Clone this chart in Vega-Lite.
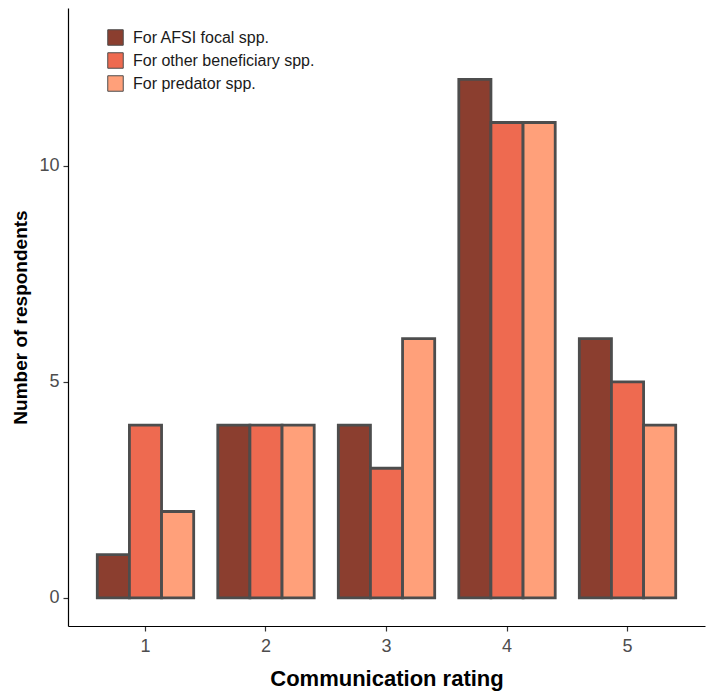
{
  "$schema": "https://vega.github.io/schema/vega-lite/v6.json",
  "width": 637,
  "height": 618,
  "autosize": {"type": "none"},
  "padding": {"left": 68, "top": 8, "right": 6, "bottom": 65},
  "background": "white",
  "config": {
    "view": {"stroke": null},
    "font": "Liberation Sans",
    "axis": {"grid": false, "domainColor": "#000000", "domainWidth": 1.2, "tickColor": "#333333", "tickWidth": 1.2, "tickSize": 5, "labelColor": "#4d4d4d", "labelFont": "Liberation Sans", "labelFontSize": 18, "titleFont": "Liberation Sans", "titleFontWeight": "bold", "titleColor": "#000000"}
  },
  "data": {
    "values": [
      {"rating": "1", "group": "For AFSI focal spp.", "count": 1},
      {"rating": "1", "group": "For other beneficiary spp.", "count": 4},
      {"rating": "1", "group": "For predator spp.", "count": 2},
      {"rating": "2", "group": "For AFSI focal spp.", "count": 4},
      {"rating": "2", "group": "For other beneficiary spp.", "count": 4},
      {"rating": "2", "group": "For predator spp.", "count": 4},
      {"rating": "3", "group": "For AFSI focal spp.", "count": 4},
      {"rating": "3", "group": "For other beneficiary spp.", "count": 3},
      {"rating": "3", "group": "For predator spp.", "count": 6},
      {"rating": "4", "group": "For AFSI focal spp.", "count": 12},
      {"rating": "4", "group": "For other beneficiary spp.", "count": 11},
      {"rating": "4", "group": "For predator spp.", "count": 11},
      {"rating": "5", "group": "For AFSI focal spp.", "count": 6},
      {"rating": "5", "group": "For other beneficiary spp.", "count": 5},
      {"rating": "5", "group": "For predator spp.", "count": 4}
    ]
  },
  "mark": {"type": "bar", "stroke": "#4d4d4d", "strokeWidth": 2.8},
  "encoding": {
    "x": {
      "field": "rating", "type": "ordinal",
      "scale": {"paddingInner": 0.2, "paddingOuter": 0.243},
      "axis": {"title": "Communication rating", "labelAngle": 0, "titleFontSize": 22, "labelPadding": 6, "titlePadding": 13}
    },
    "xOffset": {
      "field": "group", "type": "nominal",
      "scale": {"paddingInner": 0, "paddingOuter": 0}
    },
    "y": {
      "field": "count", "type": "quantitative",
      "scale": {"domain": [-0.65, 13.65], "nice": false, "zero": false},
      "axis": {"title": "Number of respondents", "values": [0, 5, 10], "titleFontSize": 19, "labelPadding": 4, "titlePadding": 8}
    },
    "y2": {"datum": 0},
    "fill": {
      "field": "group", "type": "nominal",
      "scale": {"domain": ["For AFSI focal spp.", "For other beneficiary spp.", "For predator spp."], "range": ["#8B3E2F", "#EE6A50", "#FFA07A"]},
      "legend": {
        "title": null, "orient": "none", "legendX": 39, "legendY": 21,
        "symbolType": "square", "symbolSize": 240, "symbolStrokeColor": "#4d4d4d", "symbolStrokeWidth": 1,
        "labelFontSize": 16, "labelLimit": 0, "labelColor": "#1a1a1a", "labelFont": "Liberation Sans", "rowPadding": 2, "labelOffset": 9
      }
    }
  }
}
